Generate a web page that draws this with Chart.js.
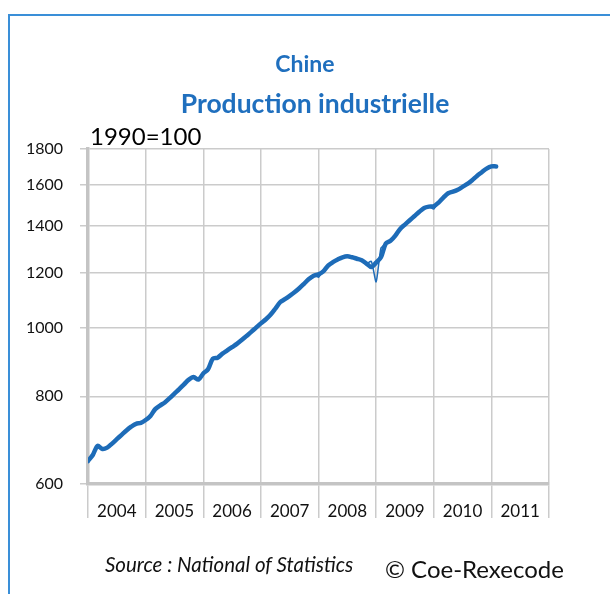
<!DOCTYPE html>
<html>
<head>
<meta charset="utf-8">
<script src="https://cdn.jsdelivr.net/npm/chart.js@4"></script>
<style>
  html, body { margin: 0; padding: 0; background: #fff; }
  body { width: 610px; height: 594px; position: relative; overflow: hidden; font-family: Lato, sans-serif; }
  #frame { position: absolute; left: 8px; top: 14px; width: 620px; height: 600px;
           border-left: 2px solid #3a8fd8; border-top: 2px solid #3a8fd8; }
  #wrap { position: absolute; left: 0; top: 0; width: 610px; height: 594px; }
  .txt { position: absolute; white-space: nowrap; z-index: 2; }
  #t1 { left: 0; width: 610px; text-align: center; top: 49px; font-size: 23px; font-weight: bold; color: #1f6fbe; }
  #t2 { left: 20px; width: 590px; text-align: center; top: 87px; font-size: 26.5px; font-weight: bold; color: #1f6fbe; }
  #unit { left: 90px; top: 121px; font-size: 24px; color: #000; }
  #src { left: 105px; top: 552px; font-size: 20.5px; font-style: italic; color: #111; }
  #copy { left: 385px; top: 554px; font-size: 24px; color: #111; }
</style>
</head>
<body>
<div id="frame"></div>
<div id="t1" class="txt">Chine</div>
<div id="t2" class="txt">Production industrielle</div>
<div id="unit" class="txt">1990=100</div>
<div id="src" class="txt">Source : National of Statistics</div>
<div id="copy" class="txt">© Coe-Rexecode</div>
<div id="wrap"><canvas id="chart" width="610" height="594"></canvas></div>
<script>
// monthly index, Jan 2004 onwards (1990=100)
const startYear = 2004;
const years = ['2004', '2005', '2006', '2007', '2008', '2009', '2010', '2011'];
const yTicks = [600, 800, 1000, 1200, 1400, 1600, 1800];

// smoothed series (thick line)
const smooth = [
    647, 660, 680, 673, 676, 685, 695, 705, 715, 724, 731, 733,
    740, 750, 767, 776, 784, 795, 807, 819, 832, 845, 852, 845,
    862, 874, 905, 908, 920, 930, 940, 950, 962, 975, 988, 1002,
    1016, 1029, 1045, 1066, 1089, 1100, 1112, 1125, 1140, 1157, 1175, 1188,
    1193, 1205, 1228, 1242, 1253, 1262, 1266, 1262, 1256, 1250, 1236, 1222,
    1240, 1262, 1320, 1332, 1355, 1385, 1405, 1425, 1445, 1465, 1483, 1490,
    1492, 1510, 1535, 1557, 1565, 1575, 1590, 1605, 1625, 1648, 1668, 1688,
    1700, 1700
];

// raw series (thin line)
const raw = [
    647, 660, 680, 673, 676, 685, 695, 705, 715, 724, 731, 733,
    740, 750, 767, 776, 784, 795, 807, 819, 832, 845, 852, 845,
    862, 874, 905, 908, 920, 930, 940, 950, 962, 975, 988, 1002,
    1016, 1029, 1045, 1066, 1089, 1100, 1112, 1125, 1140, 1157, 1178, 1192,
    1182, 1208, 1228, 1242, 1253, 1262, 1266, 1262, 1256, 1250, 1236, 1245,
    1164, 1300, 1318, 1332, 1355, 1385, 1405, 1425, 1445, 1465, 1483, 1492,
    1478, 1515, 1535, 1557, 1565, 1575, 1590, 1605, 1625, 1648, 1668, 1688,
    1700, 1700
];

const blue = '#1e6cb8';
const gridColor = '#cbcbcb';

function toPoints(vals) {
    return vals.map(function (v, i) { return { x: startYear + i / 12, y: v }; });
}

const ctx = document.getElementById('chart');
new Chart(ctx, {
    type: 'line',
    data: {
        datasets: [{
            label: 'brut',
            data: toPoints(raw),
            borderColor: blue,
            borderWidth: 1.5,
            pointRadius: 0,
            tension: 0.2
        }, {
            label: 'lissé',
            data: toPoints(smooth),
            borderColor: blue,
            borderWidth: 4.5,
            pointRadius: 0,
            tension: 0.3,
            borderCapStyle: 'round',
            borderJoinStyle: 'round'
        }]
    },
    options: {
        responsive: false,
        animation: false,
        layout: { padding: { top: 149, right: 61, bottom: 60, left: 0 } },
        plugins: {
            legend: { display: false },
            tooltip: { enabled: false }
        },
        scales: {
            x: {
                type: 'linear',
                min: 2004,
                max: 2012,
                afterFit: function (s) { s.height = 50; },
                afterBuildTicks: function (s) {
                    s.ticks = years.concat(['2012']).map(function (y) { return { value: +y }; });
                },
                grid: { color: gridColor, lineWidth: 1.5, tickLength: 34 },
                border: { color: '#c4c4c4', width: 3.5 },
                ticks: {
                    autoSkip: false,
                    maxRotation: 0,
                    labelOffset: 28.8,
                    padding: -17,
                    color: '#111',
                    font: { family: 'Lato', size: 17 },
                    callback: function (v) {
                        const s = String(v);
                        return years.indexOf(s) >= 0 ? s : '';
                    }
                }
            },
            y: {
                type: 'logarithmic',
                min: 600,
                max: 1800,
                afterFit: function (s) { s.width = 88; },
                afterBuildTicks: function (s) {
                    s.ticks = yTicks.map(function (v) { return { value: v }; });
                },
                grid: { color: gridColor, lineWidth: 1.5, tickLength: 8 },
                border: { color: '#c4c4c4', width: 3.5 },
                ticks: {
                    padding: 17,
                    color: '#111',
                    font: { family: 'Lato', size: 16 },
                    callback: function (v) { return String(v); }
                }
            }
        }
    }
});
</script>
</body>
</html>
